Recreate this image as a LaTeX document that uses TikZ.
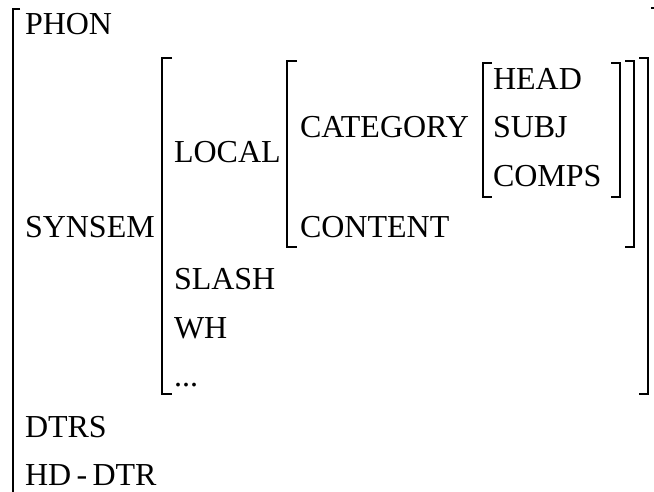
\documentclass[tikz,border=0pt]{standalone}
\usepackage{fontspec}
\setmainfont{Liberation Serif}
\begin{document}
\begin{tikzpicture}[x=1pt,y=-1pt,
  feat/.style={anchor=base west,inner sep=0pt,outer sep=0pt,
    font=\fontsize{32}{38}\selectfont},
  brk/.style={line width=1.3pt,line cap=butt,line join=miter}]
\useasboundingbox (0,0) rectangle (654,492);

% attribute labels
\node[feat] (phon)   at (25,35)  {PHON};
\node[feat] (synsem) at (25,238) {SYNSEM};
\node[feat] (dtrs)   at (25,437) {DTRS};
\node[feat] (hddtr)  at (25,485) {HD\,-\,DTR};

\node[feat] (local)  at (174,163) {LOCAL};
\node[feat] (slash)  at (174,290) {SLASH};
\node[feat] (wh)     at (174,338) {WH};
\node[feat] (etc)    at (174,386) {...};

\node[feat] (cat)    at (300,138) {CATEGORY};
\node[feat] (cont)   at (300,238) {CONTENT};

\node[feat] (head)   at (493,90)  {HEAD};
\node[feat] (subj)   at (493,138) {SUBJ};
\node[feat] (comps)  at (493,187) {COMPS};

% outermost matrix
\draw[brk] (20,9) -- (13,9) -- (13,492);
\draw[brk] (651,8) -- (654,8);

% value of SYNSEM
\draw[brk] (172,58) -- (162,58) -- (162,394) -- (172,394);
\draw[brk] (639,58) -- (648,58) -- (648,394) -- (639,394);

% value of LOCAL
\draw[brk] (297,61) -- (287,61) -- (287,247) -- (297,247);
\draw[brk] (625,61) -- (634,61) -- (634,247) -- (625,247);

% value of CATEGORY
\draw[brk] (492,63) -- (483,63) -- (483,197) -- (492,197);
\draw[brk] (611,63) -- (620,63) -- (620,197) -- (611,197);
\end{tikzpicture}
\end{document}
